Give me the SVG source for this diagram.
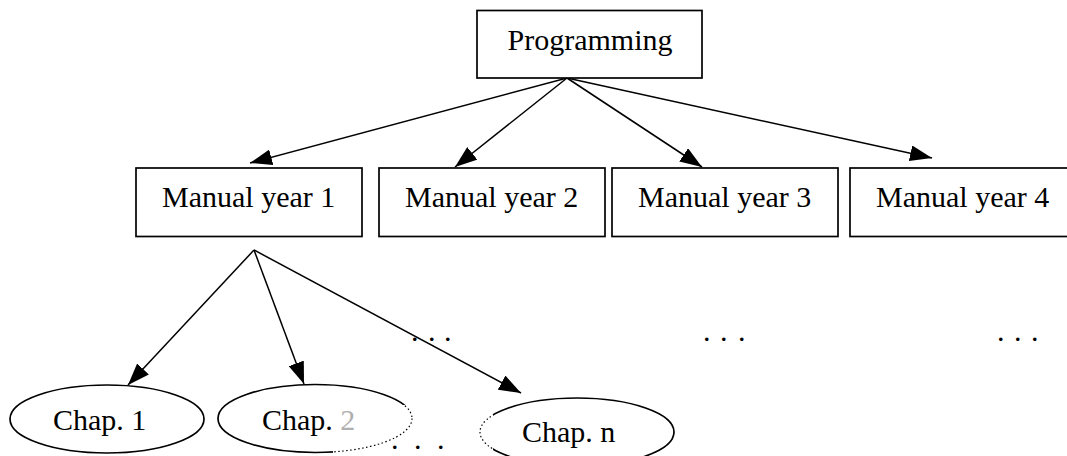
<svg xmlns="http://www.w3.org/2000/svg" width="1067" height="456" viewBox="0 0 1067 456">
<style>
.box{fill:#fff;stroke:#000;stroke-width:1.7}
.ell{fill:#fff;stroke:#000;stroke-width:1.7}
.dot{fill:none;stroke:#000;stroke-width:1.2;stroke-dasharray:1.5 2.5}
.edge{stroke:#000;stroke-width:1.5;fill:none;marker-end:url(#arr)}
text{font-family:"Liberation Serif","Times New Roman",serif;font-size:30px;fill:#000}
</style>
<defs>
<marker id="arr" viewBox="0 0 22 16" refX="22" refY="8" markerWidth="22" markerHeight="16" markerUnits="userSpaceOnUse" orient="auto">
<path d="M0,0 L22,8 L0,16 z" fill="#000"/>
</marker>
<clipPath id="cover"><rect x="333" y="405" width="160" height="51"/></clipPath>
</defs>
<rect width="1067" height="456" fill="#fff"/>
<g id="connectors">
<line class="edge" x1="567" y1="78" x2="250" y2="163"/>
<line class="edge" x1="567" y1="78" x2="455" y2="167"/>
<line class="edge" x1="567" y1="78" x2="702" y2="167"/>
<line class="edge" x1="567" y1="78" x2="932" y2="158"/>
<line class="edge" x1="254" y1="250" x2="128" y2="385"/>
<line class="edge" x1="254" y1="250" x2="304" y2="384"/>
<line class="edge" x1="254" y1="250" x2="521" y2="393"/>
</g>
<g id="programming">
<rect class="box" x="477" y="10.5" width="225" height="67.5"/>
<text x="507.5" y="50">Programming</text>
</g>
<g id="manual1">
<rect class="box" x="136" y="168" width="226" height="68.5"/>
<text x="162" y="207">Manual year 1</text>
</g>
<g id="manual2">
<rect class="box" x="379" y="168" width="226" height="68.5"/>
<text x="405" y="207">Manual year 2</text>
</g>
<g id="manual3">
<rect class="box" x="612" y="168" width="226" height="68.5"/>
<text x="638" y="207">Manual year 3</text>
</g>
<g id="manual4">
<rect class="box" x="850" y="168" width="226" height="68.5"/>
<text x="876" y="207">Manual year 4</text>
</g>
<g id="chap1">
<ellipse class="ell" cx="107" cy="419" rx="97" ry="34"/>
<text x="53" y="430">Chap. 1</text>
</g>
<g id="chap2">
<ellipse class="ell" cx="315" cy="418.5" rx="97" ry="34"/>
</g>
<g id="chapn">
<ellipse class="ell" cx="577" cy="432" rx="97" ry="34"/>
<text x="522" y="442">Chap. n</text>
</g>
<g id="cover-area">
<rect x="333" y="405" width="160" height="51" fill="#fff"/>
<g clip-path="url(#cover)">
<ellipse class="dot" cx="315" cy="418.5" rx="97" ry="34"/>
<ellipse class="dot" cx="577" cy="432" rx="97" ry="34"/>
</g>
<text x="262" y="430">Chap. <tspan fill="#b0b0b0">2</tspan></text>
</g>
<g id="ellipsis-labels">
<text x="411 428 444" y="340.5">...</text>
<text x="703 720 738" y="340.5">...</text>
<text x="997 1014 1031" y="340.5">...</text>
<text x="391 414 437" y="449">...</text>
</g>
</svg>
